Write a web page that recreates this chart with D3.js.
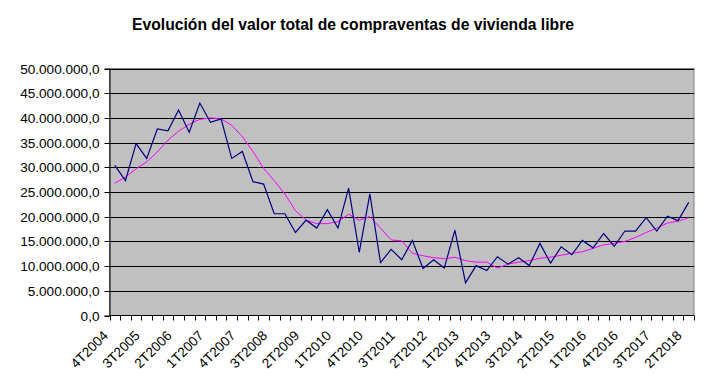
<!DOCTYPE html>
<html><head><meta charset="utf-8">
<script src="https://cdn.jsdelivr.net/npm/d3@7"></script>
<style>html,body{margin:0;padding:0;background:#fff;} svg{display:block;font-family:Arial,"Liberation Sans",sans-serif;}</style>
</head><body>
<svg id="c" width="706" height="389"></svg>
<script>
const title = "Evolución del valor total de compraventas de vivienda libre";
const categories = ["4T2004",
"1T2005","2T2005","3T2005","4T2005","1T2006","2T2006","3T2006","4T2006",
"1T2007","2T2007","3T2007","4T2007","1T2008","2T2008","3T2008","4T2008",
"1T2009","2T2009","3T2009","4T2009","1T2010","2T2010","3T2010","4T2010",
"1T2011","2T2011","3T2011","4T2011","1T2012","2T2012","3T2012","4T2012",
"1T2013","2T2013","3T2013","4T2013","1T2014","2T2014","3T2014","4T2014",
"1T2015","2T2015","3T2015","4T2015","1T2016","2T2016","3T2016","4T2016",
"1T2017","2T2017","3T2017","4T2017","1T2018","2T2018"];
// valores en millones
const valorTotal = [30.4,27.3,34.8,31.8,37.75,37.4,41.6,37.1,43.0,39.1,39.8,31.8,33.2,27.1,26.6,20.6,20.6,
16.8,19.3,17.7,21.4,17.7,25.8,12.8,24.6,10.7,13.4,11.3,15.2,9.5,11.3,9.6,17.3,6.6,10.1,9.1,11.9,10.4,11.7,
10.1,14.6,10.6,13.9,12.3,15.2,13.7,16.6,14.0,17.1,17.1,19.8,17.1,20.1,19.2,22.9];
const mediaMovil = [26.8,28.0,29.7,31.1,33.1,35.5,37.3,38.7,39.7,40.0,39.8,38.5,36.2,33.2,29.8,27.3,24.6,
21.2,19.3,18.6,18.6,19.0,20.5,19.3,20.0,17.7,15.3,15.1,12.6,12.1,11.7,11.5,11.8,11.1,10.8,10.8,9.6,10.4,10.8,
11.1,11.6,11.8,12.2,12.6,12.9,13.6,14.3,14.6,15.0,15.8,16.8,17.7,18.7,19.1,19.8];
const yTicks = [0,5,10,15,20,25,30,35,40,45,50];
const labelEvery = 3;

const svg = d3.select("#c");
const L=109.5, R=694, T=68.5, B=315.5;
const x = d3.scaleBand().domain(categories).range([L,R]).padding(0);
const y = d3.scaleLinear().domain([0,50]).range([B,T]);
const fmt = v => (v*1e6).toFixed(1).replace(".",",").replace(/\B(?=(\d{3})+(?!\d))/g,".");

svg.append("text").attr("x",353).attr("y",30).attr("text-anchor","middle")
  .attr("font-size",15.7).attr("font-weight","bold").text(title);

svg.append("rect").attr("x",L).attr("y",T).attr("width",R-L).attr("height",B-T)
  .attr("fill","#C0C0C0").attr("stroke","#808080").attr("stroke-width",1);

// gridlines
svg.append("g").selectAll("line").data(yTicks.filter(d=>d>0)).join("line")
  .attr("x1",L).attr("x2",R).attr("y1",d=>Math.round(y(d))+0.5).attr("y2",d=>Math.round(y(d))+0.5)
  .attr("stroke","#000").attr("stroke-width",1);

// y axis
const ya = svg.append("g").attr("transform",`translate(${L},0)`)
  .call(d3.axisLeft(y).tickValues(yTicks).tickSize(5).tickPadding(5).tickFormat(fmt));
ya.select(".domain").attr("stroke","#000");
ya.selectAll(".tick line").attr("stroke","#000");
ya.selectAll(".tick").attr("transform",d=>`translate(0,${Math.round(y(d))+0.5})`);
ya.selectAll("text").attr("font-size",13.6).attr("font-family","Arial, 'Liberation Sans', sans-serif").attr("fill","#000").attr("dy","0.36em");

// x axis
const xb = svg.append("g");
xb.append("line").attr("x1",L).attr("x2",R).attr("y1",B).attr("y2",B).attr("stroke","#000");
const bounds = categories.map(c=>x(c)).concat([R]);
xb.selectAll("line.t").data(bounds).join("line").attr("class","t")
  .attr("x1",d=>Math.round(d)+0.5).attr("x2",d=>Math.round(d)+0.5).attr("y1",B).attr("y2",B+5).attr("stroke","#000");
xb.selectAll("text").data(categories.filter((c,i)=>i%labelEvery===0)).join("text")
  .attr("transform",d=>`translate(${x(d)+x.bandwidth()/2-6},${B+21}) rotate(-45)`)
  .attr("text-anchor","end").attr("font-size",13.6).text(d=>d);

const line = d3.line().x((d,i)=>x(categories[i])+x.bandwidth()/2).y(d=>y(d));
svg.append("path").datum(mediaMovil).attr("d",line).attr("fill","none").attr("stroke","#FF00FF").attr("stroke-width",1);
svg.append("path").datum(valorTotal).attr("d",line).attr("fill","none").attr("stroke","#000080").attr("stroke-width",1.2);
</script>
</body></html>
